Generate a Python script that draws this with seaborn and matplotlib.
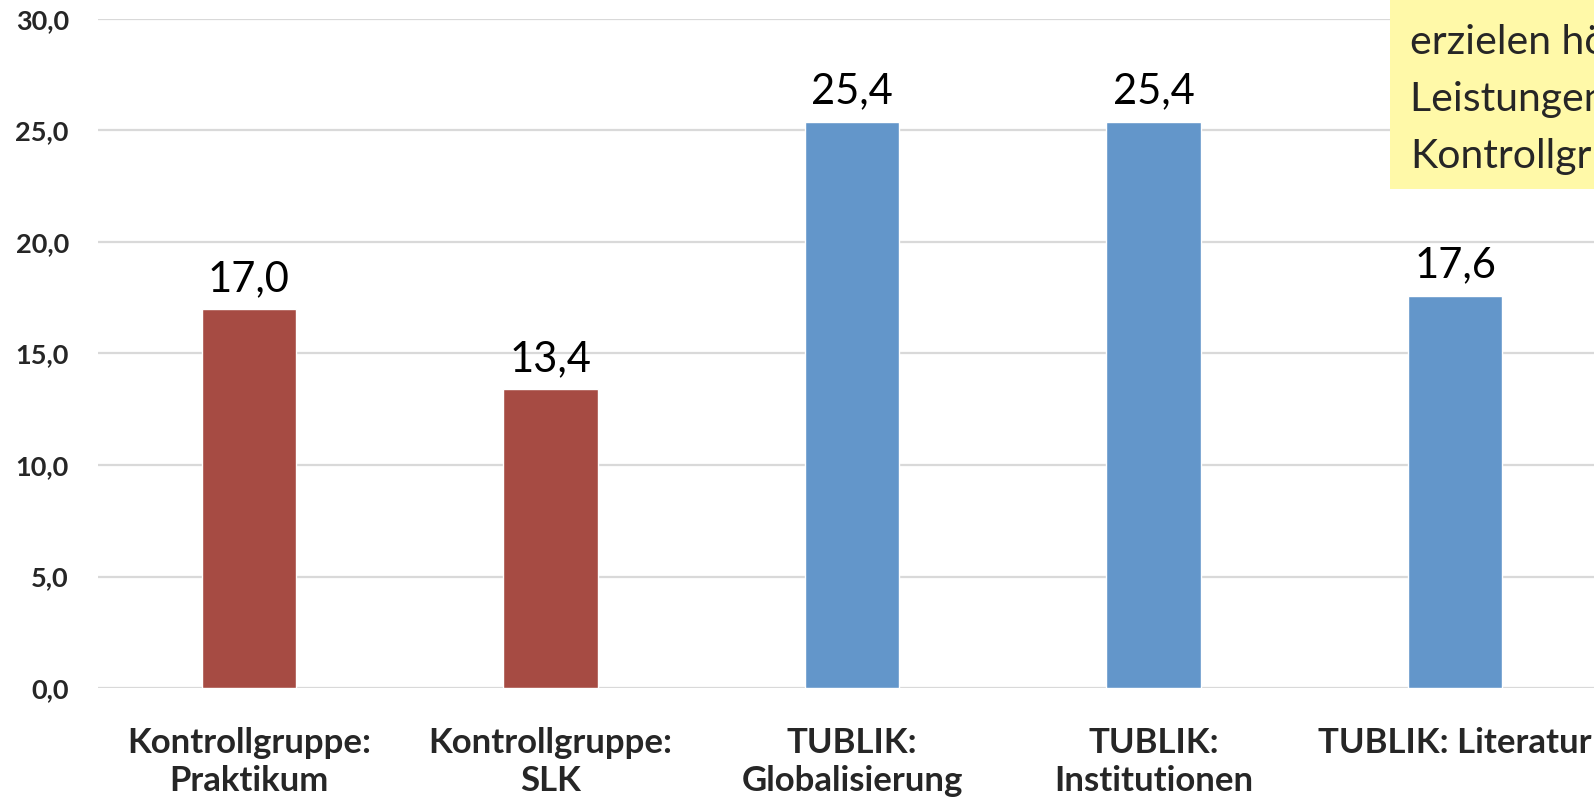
"""
Bar chart: Kontrollgruppen vs. TUBLIK groups (mean scores), Excel-style look.
"""
import matplotlib
matplotlib.use("Agg")
import matplotlib.pyplot as plt
from matplotlib.patches import Rectangle
from matplotlib.ticker import FuncFormatter
import pandas as pd
import seaborn as sns

CATEGORIES = [
    "Kontrollgruppe:\nPraktikum",
    "Kontrollgruppe:\nSLK",
    "TUBLIK:\nGlobalisierung",
    "TUBLIK:\nInstitutionen",
    "TUBLIK: Literatur",
]
VALUES = [17.0, 13.4, 25.4, 25.4, 17.6]
GROUPS = ["Kontrollgruppe", "Kontrollgruppe", "TUBLIK", "TUBLIK", "TUBLIK"]
Y_TICKS = [0, 5, 10, 15, 20, 25, 30]
NOTE_LINES = ["erzielen höhere", "Leistungen als", "Kontrollgruppen"]

PALETTE = {"Kontrollgruppe": "#A64B43", "TUBLIK": "#6396CA"}
FONT = "Lato"
W, H = 1594, 798


def de_fmt(v, _pos=None):
    return f"{v:.1f}".replace(".", ",")


def main():
    sns.set_style("white")
    plt.rcParams["font.family"] = [FONT, "DejaVu Sans"]

    df = pd.DataFrame({"kategorie": CATEGORIES, "wert": VALUES, "gruppe": GROUPS})

    fig = plt.figure(figsize=(W / 100, H / 100), dpi=100)
    ax = fig.add_axes([98 / W, 1 - 688 / H, (1606 - 98) / W, (688 - 19) / H])

    sns.barplot(data=df, x="kategorie", y="wert", hue="gruppe", palette=PALETTE,
                saturation=1, dodge=False, width=0.313, legend=False, ax=ax, zorder=3)

    for cont in ax.containers:
        ax.bar_label(cont, labels=[de_fmt(v) for v in cont.datavalues],
                     padding=8, fontsize=30, color="black")

    ax.set_ylim(0, 30)
    ax.set_xlim(-0.5, len(CATEGORIES) - 0.5)
    ax.set_yticks(Y_TICKS)
    ax.yaxis.set_major_formatter(FuncFormatter(de_fmt))
    ax.yaxis.grid(True, color="#D9D9D9", linewidth=1.6, zorder=0)
    ax.set_axisbelow(True)
    for s in ax.spines.values():
        s.set_visible(False)
    ax.set_xlabel("")
    ax.set_ylabel("")
    ax.tick_params(axis="y", length=0, pad=21, labelsize=19.5)
    ax.tick_params(axis="x", length=0, pad=28, labelsize=25)
    for lab in ax.get_yticklabels() + ax.get_xticklabels():
        lab.set_fontweight("bold")
    for lab in ax.get_xticklabels():
        lab.set_linespacing(1.25)

    # yellow call-out box, cut off by the right/top edge as in the slide
    fig.add_artist(Rectangle((1390 / W, 1 - 189 / H), 1, 1, transform=fig.transFigure,
                             facecolor="#FFF9A8", edgecolor="none", zorder=5))
    for i, line in enumerate(NOTE_LINES):
        fig.text(1410 / W, 1 - (54 + 57 * i) / H, line, fontsize=29.5,
                 ha="left", va="baseline", zorder=6)

    fig.savefig("out.png", dpi=100)


if __name__ == "__main__":
    main()
